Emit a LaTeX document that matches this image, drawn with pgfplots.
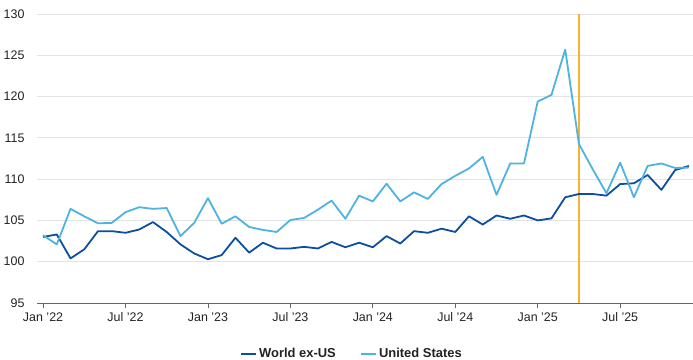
\documentclass[border=0pt]{standalone}
\usepackage{fontspec}
\setmainfont{Liberation Sans}
\usepackage{pgfplots}
\pgfplotsset{compat=1.18}
\definecolor{darkb}{HTML}{0B4EA2}
\definecolor{lightb}{HTML}{4DB3E0}
\definecolor{orng}{HTML}{F5B335}
\definecolor{gridc}{HTML}{E3E3E3}
\definecolor{axc}{HTML}{666666}
\definecolor{txt}{HTML}{222222}
\begin{document}
\begin{tikzpicture}
\begin{axis}[
  name=ax,
  scale only axis,
  width=656bp, height=289bp,
  xmin=-0.44, xmax=47.3,
  ymin=95, ymax=130,
  axis x line*=bottom,
  axis y line*=left,
  y axis line style={draw=none},
  x axis line style={axc, line width=0.9pt, -},
  xtick={0,6,...,42},
  xticklabels={Jan '22,Jul '22,Jan '23,Jul '23,Jan '24,Jul '24,Jan '25,Jul '25},
  xtick style={axc, line width=0.8pt},
  tick align=outside,
  major tick length=5bp,
  ytick={95,100,...,130},
  ymajorgrids,
  grid style={gridc, line width=0.8pt},
  ytick style={draw=none},
  ticklabel style={font=\fontsize{12.5}{14}\selectfont, text=txt},
  /pgf/number format/assume math mode=true,
  yticklabel style={anchor=east, xshift=-4bp},
  xticklabel style={yshift=-1bp},
  clip=false,
  legend columns=2,
  legend style={draw=none, fill=none, at={(0.48,-0.176)}, anchor=center,
    font=\bfseries\fontsize{13}{15}\selectfont, text=txt,
    /tikz/every even column/.append style={column sep=22bp}},
  legend image code/.code={\draw[#1, line width=2.2pt] (0bp,0bp) -- (15bp,0bp);},
]
\addplot[orng, line width=1.3pt, forget plot] coordinates {(39,95) (39,130)};
\addplot[darkb, line width=1.8pt, line join=round] coordinates {
(0,103.0) (1,103.3) (2,100.4) (3,101.5) (4,103.7) (5,103.7) (6,103.5) (7,103.9)
(8,104.8) (9,103.6) (10,102.1) (11,101.0) (12,100.3) (13,100.8) (14,102.9) (15,101.1)
(16,102.3) (17,101.6) (18,101.6) (19,101.8) (20,101.6) (21,102.4) (22,101.75) (23,102.3)
(24,101.75) (25,103.1) (26,102.2) (27,103.7) (28,103.5) (29,104.0) (30,103.6) (31,105.5)
(32,104.5) (33,105.6) (34,105.2) (35,105.6) (36,105.0) (37,105.25) (38,107.8) (39,108.2)
(40,108.2) (41,108.0) (42,109.4) (43,109.5) (44,110.5) (45,108.7) (46,111.1) (47,111.6)
};
\addlegendentry{World ex-US}
\addplot[lightb, line width=1.8pt, line join=round] coordinates {
(0,103.2) (1,102.1) (2,106.4) (3,105.5) (4,104.65) (5,104.7) (6,106.0) (7,106.6)
(8,106.4) (9,106.5) (10,103.1) (11,104.7) (12,107.7) (13,104.6) (14,105.5) (15,104.2)
(16,103.85) (17,103.6) (18,105.05) (19,105.3) (20,106.3) (21,107.4) (22,105.2) (23,108.0)
(24,107.3) (25,109.45) (26,107.3) (27,108.4) (28,107.6) (29,109.4) (30,110.4) (31,111.3)
(32,112.7) (33,108.1) (34,111.9) (35,111.9) (36,119.4) (37,120.2) (38,125.7) (39,114.25)
(40,111.2) (41,108.3) (42,112.0) (43,107.8) (44,111.6) (45,111.9) (46,111.35) (47,111.4)
};
\addlegendentry{United States}
\end{axis}
\pgfresetboundingbox
\path ([shift={(-37bp,-57bp)}]ax.south west) rectangle ([shift={(0bp,14bp)}]ax.north east);
\end{tikzpicture}
\end{document}
